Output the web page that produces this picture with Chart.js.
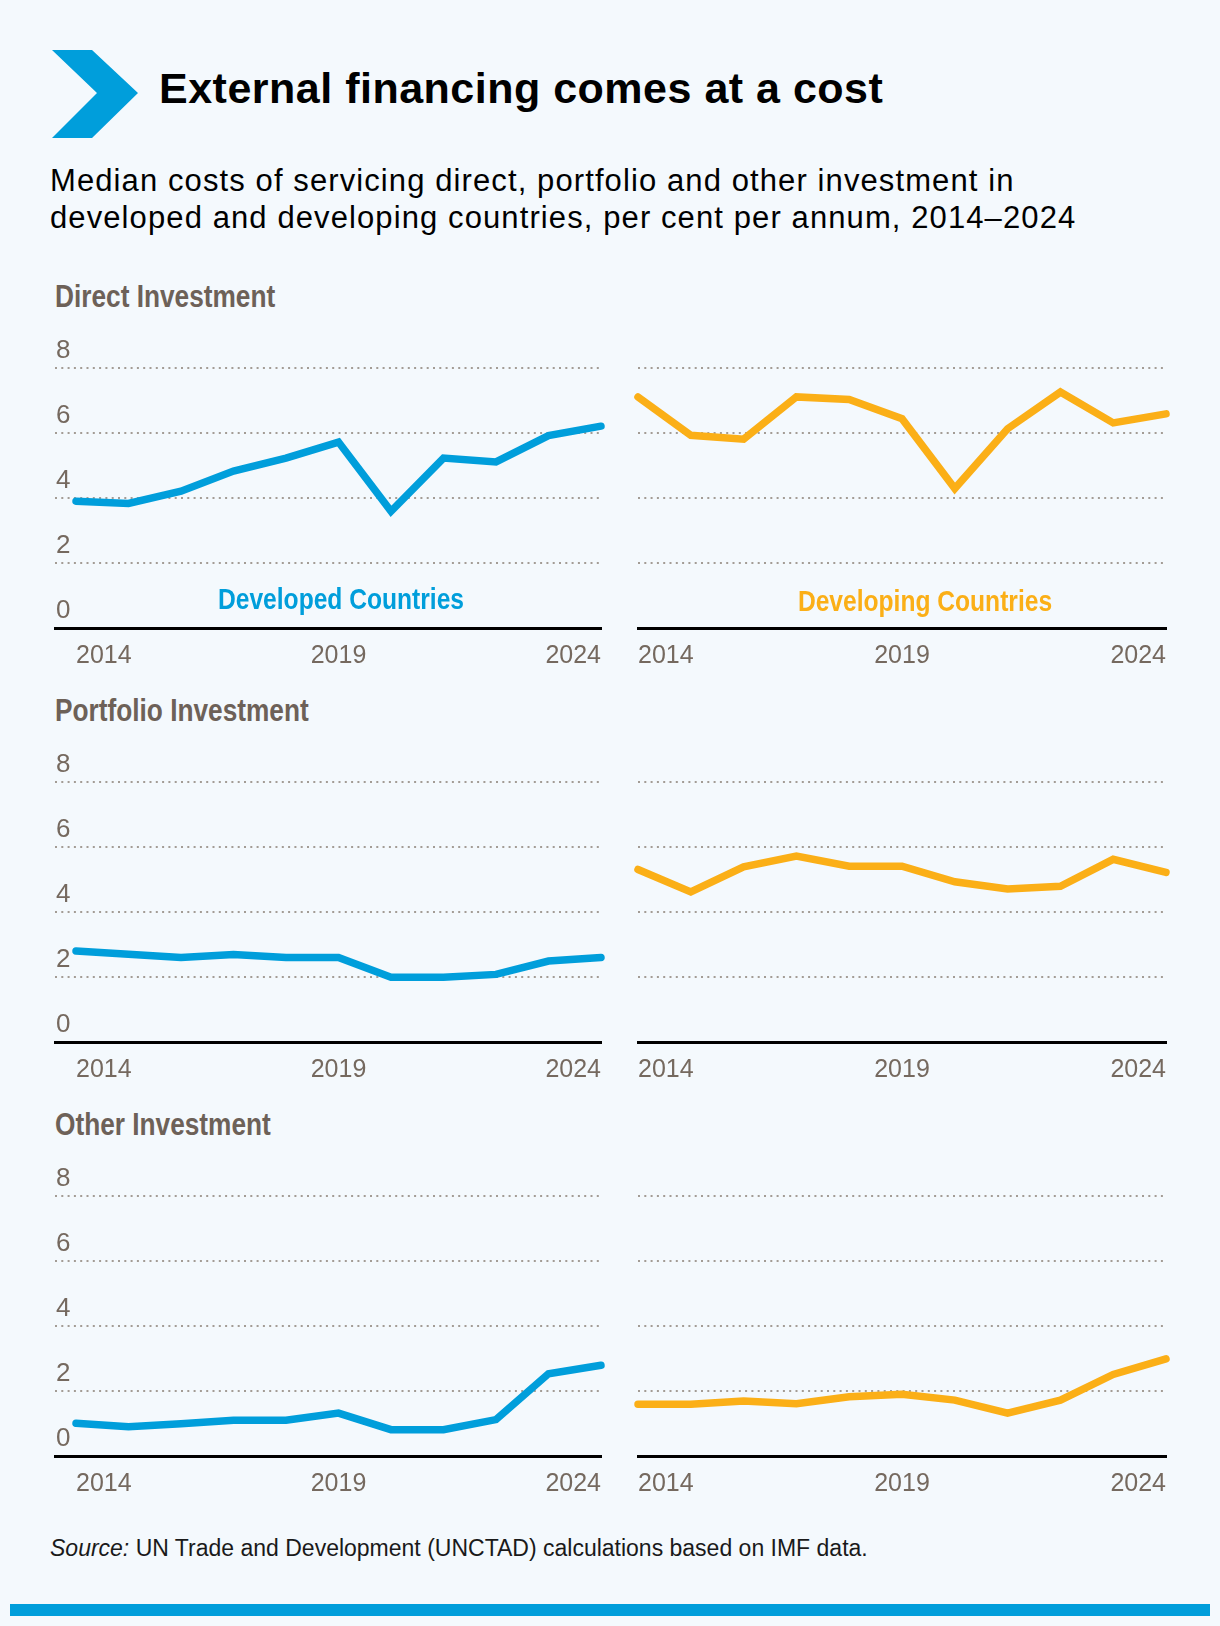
<!DOCTYPE html>
<html>
<head>
<meta charset="utf-8">
<title>External financing comes at a cost</title>
<script src="https://cdn.jsdelivr.net/npm/chart.js@4.4.1/dist/chart.umd.min.js"></script>
<style>
    html, body { margin: 0; padding: 0; }
    body {
        width: 1220px;
        height: 1626px;
        position: relative;
        background: #f4f9fd;
        font-family: "Liberation Sans", Arial, sans-serif;
        overflow: hidden;
    }
    .abs { position: absolute; white-space: nowrap; line-height: 1; }
    .title { left: 159px; top: 67px; font-size: 43px; font-weight: bold; color: #000; letter-spacing: 0.5px; }
    .subtitle { left: 50px; top: 163px; font-size: 31px; line-height: 36.7px; color: #000; letter-spacing: 1.1px; }
    .panel-title { left: 55px; font-size: 32px; font-weight: bold; color: #6d6158; transform: scaleX(0.82); transform-origin: left center; }
    .series-label { font-size: 30px; font-weight: bold; transform: translateX(-50%) scaleX(0.82); }
    .source { left: 50px; top: 1537px; font-size: 23px; color: #1a1a1a; }
    .bottom-bar { left: 10px; top: 1604px; width: 1200px; height: 12px; background: #009edb; }
    canvas { position: absolute; }
</style>
</head>
<body>

<svg class="abs" style="left:0;top:0" width="160" height="160">
    <polygon points="52,50 92,50 138,93 92,138 52,138 97,93" fill="#009edb"/>
</svg>
<div class="abs title">External financing comes at a cost</div>
<div class="abs subtitle">Median costs of servicing direct, portfolio and other investment in<br>developed and developing countries, per cent per annum, 2014–2024</div>

<div class="abs panel-title" style="top:280px">Direct Investment</div>
<div class="abs panel-title" style="top:694px">Portfolio Investment</div>
<div class="abs panel-title" style="top:1108px">Other Investment</div>

<canvas id="directDev" width="580" height="370" style="left:40px;top:330px"></canvas>
<canvas id="directDvg" width="580" height="370" style="left:620px;top:330px"></canvas>
<canvas id="portDev" width="580" height="370" style="left:40px;top:744px"></canvas>
<canvas id="portDvg" width="580" height="370" style="left:620px;top:744px"></canvas>
<canvas id="otherDev" width="580" height="370" style="left:40px;top:1158px"></canvas>
<canvas id="otherDvg" width="580" height="370" style="left:620px;top:1158px"></canvas>

<div class="abs series-label" style="left:341px;top:584px;color:#009edb">Developed Countries</div>
<div class="abs series-label" style="left:925px;top:586px;color:#fbaf17">Developing Countries</div>

<div class="abs source"><i>Source:</i> UN Trade and Development (UNCTAD) calculations based on IMF data.</div>
<div class="abs bottom-bar"></div>

<script>
// Data (per cent per annum)
const years = [2014, 2015, 2016, 2017, 2018, 2019, 2020, 2021, 2022, 2023, 2024];
const xTickYears = [2014, 2019, 2024];
const yTicks = [0, 2, 4, 6, 8];

const directDeveloped    = [3.90, 3.83, 4.21, 4.83, 5.23, 5.72, 3.59, 5.23, 5.11, 5.92, 6.21];
const directDeveloping   = [7.11, 5.93, 5.81, 7.11, 7.03, 6.44, 4.29, 6.13, 7.26, 6.31, 6.59];
const portfolioDeveloped = [2.80, 2.70, 2.60, 2.69, 2.60, 2.60, 1.99, 1.99, 2.08, 2.49, 2.60];
const portfolioDeveloping= [5.31, 4.62, 5.39, 5.72, 5.41, 5.41, 4.93, 4.71, 4.79, 5.62, 5.22];
const otherDeveloped     = [1.01, 0.90, 0.99, 1.10, 1.10, 1.32, 0.81, 0.81, 1.12, 2.53, 2.79];
const otherDeveloping    = [1.59, 1.59, 1.69, 1.61, 1.82, 1.90, 1.72, 1.32, 1.72, 2.51, 2.99];

const BLUE = '#009edb';
const ORANGE = '#fbaf17';
const LABEL_GREY = '#75695f';
const TICK_FONT = '"Liberation Sans", Arial, sans-serif';
const PLOT_BOTTOM = 298; // x axis line, relative to the canvas top

Chart.defaults.animation = false;

// One small line chart per panel
function makePanel(canvasId, values, color, isLeft) {
    const ctx = document.getElementById(canvasId).getContext('2d');
    const points = years.map((yr, i) => ({ x: yr, y: values[i] }));

    const chart = new Chart(ctx, {
        type: 'line',
        data: {
            datasets: [{
                data: points,
                borderColor: color,
                borderWidth: 7.5,
                borderCapStyle: 'round',
                borderJoinStyle: 'miter',
                pointRadius: 0,
                tension: 0,
                clip: false
            }]
        },
        options: {
            responsive: false,
            events: [],
            layout: {
                padding: isLeft
                    ? { left: 13, right: 19, top: 38, bottom: 10 }
                    : { left: 18, right: 34, top: 38, bottom: 10 }
            },
            plugins: {
                legend: { display: false },
                tooltip: { enabled: false }
            },
            scales: {
                x: {
                    type: 'linear',
                    min: isLeft ? 2013.6 : 2014,
                    max: 2024,
                    afterBuildTicks: scale => {
                        scale.ticks = xTickYears.map(v => ({ value: v }));
                    },
                    grid: { display: false, drawTicks: false },
                    border: { display: true, color: '#000', width: 3 },
                    ticks: {
                        autoSkip: false,
                        maxRotation: 0,
                        align: 'inner',
                        padding: 13,
                        color: LABEL_GREY,
                        font: { family: TICK_FONT, size: 25 },
                        callback: v => String(v)
                    }
                },
                y: {
                    min: 0,
                    max: 8,
                    afterBuildTicks: scale => {
                        scale.ticks = yTicks.map(v => ({ value: v }));
                    },
                    grid: {
                        drawTicks: false,
                        lineWidth: 2,
                        color: c => (c.tick && c.tick.value === 0) ? 'rgba(0,0,0,0)' : '#a39c95'
                    },
                    border: { display: false, dash: [2, 4.3] },
                    ticks: {
                        display: isLeft,
                        mirror: true,
                        padding: 1,
                        labelOffset: -17,
                        color: LABEL_GREY,
                        font: { family: TICK_FONT, size: 26 }
                    }
                }
            }
        }
    });

    // pull the x axis line onto the same height in every panel
    const diff = chart.chartArea.bottom - PLOT_BOTTOM;
    chart.options.layout.padding.bottom += diff;
    chart.update();
    return chart;
}

makePanel('directDev', directDeveloped, BLUE, true);
makePanel('directDvg', directDeveloping, ORANGE, false);
makePanel('portDev', portfolioDeveloped, BLUE, true);
makePanel('portDvg', portfolioDeveloping, ORANGE, false);
makePanel('otherDev', otherDeveloped, BLUE, true);
makePanel('otherDvg', otherDeveloping, ORANGE, false);
</script>
</body>
</html>
